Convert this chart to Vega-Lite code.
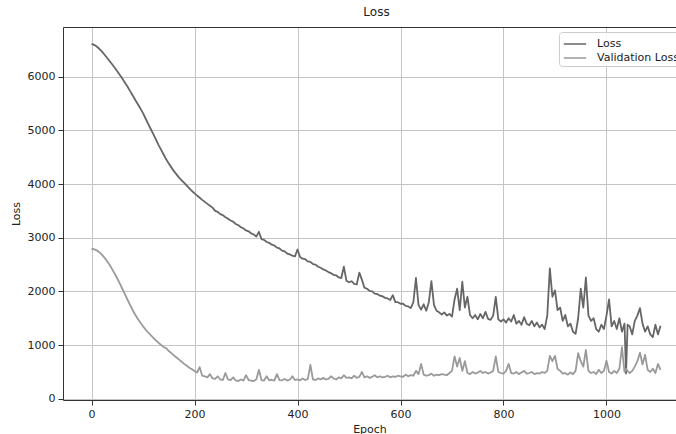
{
  "$schema": "https://vega.github.io/schema/vega-lite/v6.json",
  "width": 613,
  "height": 373,
  "autosize": {"type": "none"},
  "padding": {"left": 63, "top": 27, "right": 0, "bottom": 34},
  "background": "white",
  "title": {"text": "Loss", "fontSize": 12, "fontWeight": "normal", "font": "DejaVu Sans", "color": "#222", "offset": 8, "dx": 7, "anchor": "middle"},
  "config": {
    "view": {"stroke": null},
    "font": "DejaVu Sans",
    "axis": {
      "labelFont": "DejaVu Sans", "labelFontSize": 11, "labelColor": "#222",
      "titleFont": "DejaVu Sans", "titleFontSize": 11, "titleFontWeight": "normal", "titleColor": "#222",
      "domainColor": "#333", "domainWidth": 1, "tickColor": "#333", "tickSize": 5, "tickWidth": 1,
      "gridColor": "#c4c4c4", "gridWidth": 1
    }
  },
  "data": {"values": [
{"epoch":0,"Loss":6610,"Validation Loss":2790},
{"epoch":5,"Loss":6592,"Validation Loss":2785},
{"epoch":10,"Loss":6560,"Validation Loss":2765},
{"epoch":15,"Loss":6518,"Validation Loss":2730},
{"epoch":20,"Loss":6470,"Validation Loss":2685},
{"epoch":25,"Loss":6412,"Validation Loss":2630},
{"epoch":30,"Loss":6350,"Validation Loss":2565},
{"epoch":35,"Loss":6290,"Validation Loss":2495},
{"epoch":40,"Loss":6230,"Validation Loss":2415},
{"epoch":45,"Loss":6165,"Validation Loss":2330},
{"epoch":50,"Loss":6100,"Validation Loss":2240},
{"epoch":55,"Loss":6030,"Validation Loss":2145},
{"epoch":60,"Loss":5960,"Validation Loss":2045},
{"epoch":65,"Loss":5885,"Validation Loss":1945},
{"epoch":70,"Loss":5810,"Validation Loss":1845},
{"epoch":75,"Loss":5730,"Validation Loss":1745},
{"epoch":80,"Loss":5650,"Validation Loss":1650},
{"epoch":85,"Loss":5565,"Validation Loss":1565},
{"epoch":90,"Loss":5485,"Validation Loss":1485},
{"epoch":95,"Loss":5405,"Validation Loss":1415},
{"epoch":100,"Loss":5320,"Validation Loss":1350},
{"epoch":105,"Loss":5220,"Validation Loss":1290},
{"epoch":110,"Loss":5120,"Validation Loss":1235},
{"epoch":115,"Loss":5025,"Validation Loss":1185},
{"epoch":120,"Loss":4930,"Validation Loss":1135},
{"epoch":125,"Loss":4830,"Validation Loss":1090},
{"epoch":130,"Loss":4730,"Validation Loss":1045},
{"epoch":135,"Loss":4640,"Validation Loss":1005},
{"epoch":140,"Loss":4550,"Validation Loss":965},
{"epoch":145,"Loss":4460,"Validation Loss":945},
{"epoch":150,"Loss":4380,"Validation Loss":890},
{"epoch":155,"Loss":4310,"Validation Loss":850},
{"epoch":160,"Loss":4240,"Validation Loss":810},
{"epoch":165,"Loss":4180,"Validation Loss":770},
{"epoch":170,"Loss":4120,"Validation Loss":730},
{"epoch":175,"Loss":4070,"Validation Loss":690},
{"epoch":180,"Loss":4020,"Validation Loss":650},
{"epoch":185,"Loss":3970,"Validation Loss":615},
{"epoch":190,"Loss":3920,"Validation Loss":580},
{"epoch":195,"Loss":3870,"Validation Loss":550},
{"epoch":200,"Loss":3827,"Validation Loss":520},
{"epoch":205,"Loss":3785,"Validation Loss":490},
{"epoch":210,"Loss":3745,"Validation Loss":590},
{"epoch":215,"Loss":3705,"Validation Loss":430},
{"epoch":220,"Loss":3668,"Validation Loss":420},
{"epoch":225,"Loss":3630,"Validation Loss":400},
{"epoch":230,"Loss":3595,"Validation Loss":460},
{"epoch":235,"Loss":3560,"Validation Loss":380},
{"epoch":240,"Loss":3500,"Validation Loss":370},
{"epoch":245,"Loss":3480,"Validation Loss":420},
{"epoch":250,"Loss":3440,"Validation Loss":360},
{"epoch":255,"Loss":3420,"Validation Loss":350},
{"epoch":260,"Loss":3380,"Validation Loss":480},
{"epoch":265,"Loss":3355,"Validation Loss":360},
{"epoch":270,"Loss":3320,"Validation Loss":350},
{"epoch":275,"Loss":3300,"Validation Loss":400},
{"epoch":280,"Loss":3255,"Validation Loss":345},
{"epoch":285,"Loss":3235,"Validation Loss":330},
{"epoch":290,"Loss":3195,"Validation Loss":360},
{"epoch":295,"Loss":3175,"Validation Loss":340},
{"epoch":300,"Loss":3135,"Validation Loss":440},
{"epoch":305,"Loss":3120,"Validation Loss":350},
{"epoch":310,"Loss":3080,"Validation Loss":340},
{"epoch":315,"Loss":3060,"Validation Loss":330},
{"epoch":320,"Loss":3020,"Validation Loss":360},
{"epoch":325,"Loss":3110,"Validation Loss":540},
{"epoch":330,"Loss":2975,"Validation Loss":350},
{"epoch":335,"Loss":2960,"Validation Loss":340},
{"epoch":340,"Loss":2920,"Validation Loss":420},
{"epoch":345,"Loss":2905,"Validation Loss":345},
{"epoch":350,"Loss":2870,"Validation Loss":355},
{"epoch":355,"Loss":2855,"Validation Loss":340},
{"epoch":360,"Loss":2815,"Validation Loss":460},
{"epoch":365,"Loss":2800,"Validation Loss":350},
{"epoch":370,"Loss":2760,"Validation Loss":345},
{"epoch":375,"Loss":2745,"Validation Loss":370},
{"epoch":380,"Loss":2705,"Validation Loss":340},
{"epoch":385,"Loss":2690,"Validation Loss":355},
{"epoch":390,"Loss":2665,"Validation Loss":420},
{"epoch":395,"Loss":2650,"Validation Loss":350},
{"epoch":400,"Loss":2780,"Validation Loss":360},
{"epoch":405,"Loss":2640,"Validation Loss":345},
{"epoch":410,"Loss":2610,"Validation Loss":380},
{"epoch":415,"Loss":2600,"Validation Loss":350},
{"epoch":420,"Loss":2560,"Validation Loss":370},
{"epoch":425,"Loss":2550,"Validation Loss":630},
{"epoch":430,"Loss":2510,"Validation Loss":360},
{"epoch":435,"Loss":2500,"Validation Loss":350},
{"epoch":440,"Loss":2460,"Validation Loss":380},
{"epoch":445,"Loss":2440,"Validation Loss":360},
{"epoch":450,"Loss":2410,"Validation Loss":390},
{"epoch":455,"Loss":2390,"Validation Loss":360},
{"epoch":460,"Loss":2360,"Validation Loss":370},
{"epoch":465,"Loss":2340,"Validation Loss":420},
{"epoch":470,"Loss":2310,"Validation Loss":380},
{"epoch":475,"Loss":2300,"Validation Loss":360},
{"epoch":480,"Loss":2260,"Validation Loss":400},
{"epoch":485,"Loss":2250,"Validation Loss":380},
{"epoch":490,"Loss":2460,"Validation Loss":440},
{"epoch":495,"Loss":2200,"Validation Loss":390},
{"epoch":500,"Loss":2170,"Validation Loss":400},
{"epoch":505,"Loss":2190,"Validation Loss":380},
{"epoch":510,"Loss":2140,"Validation Loss":430},
{"epoch":515,"Loss":2130,"Validation Loss":390},
{"epoch":520,"Loss":2350,"Validation Loss":410},
{"epoch":525,"Loss":2220,"Validation Loss":500},
{"epoch":530,"Loss":2070,"Validation Loss":400},
{"epoch":535,"Loss":2050,"Validation Loss":420},
{"epoch":540,"Loss":2010,"Validation Loss":390},
{"epoch":545,"Loss":2000,"Validation Loss":410},
{"epoch":550,"Loss":1960,"Validation Loss":440},
{"epoch":555,"Loss":1950,"Validation Loss":400},
{"epoch":560,"Loss":1920,"Validation Loss":420},
{"epoch":565,"Loss":1910,"Validation Loss":400},
{"epoch":570,"Loss":1880,"Validation Loss":410},
{"epoch":575,"Loss":1870,"Validation Loss":430},
{"epoch":580,"Loss":1840,"Validation Loss":400},
{"epoch":585,"Loss":1930,"Validation Loss":420},
{"epoch":590,"Loss":1800,"Validation Loss":410},
{"epoch":595,"Loss":1800,"Validation Loss":430},
{"epoch":600,"Loss":1770,"Validation Loss":420},
{"epoch":605,"Loss":1770,"Validation Loss":410},
{"epoch":610,"Loss":1730,"Validation Loss":450},
{"epoch":615,"Loss":1720,"Validation Loss":420},
{"epoch":620,"Loss":1690,"Validation Loss":440},
{"epoch":625,"Loss":1800,"Validation Loss":430},
{"epoch":630,"Loss":2250,"Validation Loss":520},
{"epoch":635,"Loss":1750,"Validation Loss":460},
{"epoch":640,"Loss":1660,"Validation Loss":650},
{"epoch":645,"Loss":1760,"Validation Loss":450},
{"epoch":650,"Loss":1640,"Validation Loss":430},
{"epoch":655,"Loss":1800,"Validation Loss":440},
{"epoch":660,"Loss":2190,"Validation Loss":470},
{"epoch":665,"Loss":1750,"Validation Loss":430},
{"epoch":670,"Loss":1640,"Validation Loss":450},
{"epoch":675,"Loss":1610,"Validation Loss":440},
{"epoch":680,"Loss":1570,"Validation Loss":460},
{"epoch":685,"Loss":1610,"Validation Loss":450},
{"epoch":690,"Loss":1550,"Validation Loss":440},
{"epoch":695,"Loss":1580,"Validation Loss":480},
{"epoch":700,"Loss":1530,"Validation Loss":520},
{"epoch":705,"Loss":1850,"Validation Loss":790},
{"epoch":710,"Loss":2050,"Validation Loss":600},
{"epoch":715,"Loss":1650,"Validation Loss":760},
{"epoch":720,"Loss":2180,"Validation Loss":520},
{"epoch":725,"Loss":1700,"Validation Loss":700},
{"epoch":730,"Loss":1900,"Validation Loss":480},
{"epoch":735,"Loss":1560,"Validation Loss":460},
{"epoch":740,"Loss":1500,"Validation Loss":500},
{"epoch":745,"Loss":1560,"Validation Loss":470},
{"epoch":750,"Loss":1480,"Validation Loss":490},
{"epoch":755,"Loss":1580,"Validation Loss":520},
{"epoch":760,"Loss":1500,"Validation Loss":480},
{"epoch":765,"Loss":1620,"Validation Loss":500},
{"epoch":770,"Loss":1490,"Validation Loss":470},
{"epoch":775,"Loss":1470,"Validation Loss":490},
{"epoch":780,"Loss":1550,"Validation Loss":520},
{"epoch":785,"Loss":1900,"Validation Loss":790},
{"epoch":790,"Loss":1480,"Validation Loss":500},
{"epoch":795,"Loss":1440,"Validation Loss":480},
{"epoch":800,"Loss":1480,"Validation Loss":470},
{"epoch":805,"Loss":1420,"Validation Loss":520},
{"epoch":810,"Loss":1500,"Validation Loss":650},
{"epoch":815,"Loss":1440,"Validation Loss":480},
{"epoch":820,"Loss":1560,"Validation Loss":470},
{"epoch":825,"Loss":1400,"Validation Loss":500},
{"epoch":830,"Loss":1450,"Validation Loss":460},
{"epoch":835,"Loss":1380,"Validation Loss":490},
{"epoch":840,"Loss":1520,"Validation Loss":520},
{"epoch":845,"Loss":1400,"Validation Loss":470},
{"epoch":850,"Loss":1370,"Validation Loss":480},
{"epoch":855,"Loss":1450,"Validation Loss":500},
{"epoch":860,"Loss":1350,"Validation Loss":460},
{"epoch":865,"Loss":1420,"Validation Loss":480},
{"epoch":870,"Loss":1330,"Validation Loss":470},
{"epoch":875,"Loss":1380,"Validation Loss":500},
{"epoch":880,"Loss":1300,"Validation Loss":480},
{"epoch":885,"Loss":1550,"Validation Loss":520},
{"epoch":890,"Loss":2430,"Validation Loss":800},
{"epoch":895,"Loss":1900,"Validation Loss":700},
{"epoch":900,"Loss":2020,"Validation Loss":800},
{"epoch":905,"Loss":1650,"Validation Loss":560},
{"epoch":910,"Loss":1700,"Validation Loss":520},
{"epoch":915,"Loss":1450,"Validation Loss":470},
{"epoch":920,"Loss":1560,"Validation Loss":480},
{"epoch":925,"Loss":1350,"Validation Loss":450},
{"epoch":930,"Loss":1400,"Validation Loss":490},
{"epoch":935,"Loss":1250,"Validation Loss":460},
{"epoch":940,"Loss":1210,"Validation Loss":520},
{"epoch":945,"Loss":1500,"Validation Loss":850},
{"epoch":950,"Loss":2050,"Validation Loss":700},
{"epoch":955,"Loss":1700,"Validation Loss":600},
{"epoch":960,"Loss":2260,"Validation Loss":910},
{"epoch":965,"Loss":1550,"Validation Loss":520},
{"epoch":970,"Loss":1450,"Validation Loss":480},
{"epoch":975,"Loss":1500,"Validation Loss":500},
{"epoch":980,"Loss":1300,"Validation Loss":460},
{"epoch":985,"Loss":1250,"Validation Loss":540},
{"epoch":990,"Loss":1380,"Validation Loss":480},
{"epoch":995,"Loss":1300,"Validation Loss":520},
{"epoch":1000,"Loss":1550,"Validation Loss":710},
{"epoch":1005,"Loss":1850,"Validation Loss":500},
{"epoch":1010,"Loss":1350,"Validation Loss":470},
{"epoch":1015,"Loss":1450,"Validation Loss":520},
{"epoch":1020,"Loss":1300,"Validation Loss":480},
{"epoch":1025,"Loss":1500,"Validation Loss":560},
{"epoch":1030,"Loss":1250,"Validation Loss":960},
{"epoch":1035,"Loss":1400,"Validation Loss":500},
{"epoch":1038,"Loss":470,"Validation Loss":560},
{"epoch":1041,"Loss":1380,"Validation Loss":520},
{"epoch":1045,"Loss":1350,"Validation Loss":480},
{"epoch":1050,"Loss":1200,"Validation Loss":520},
{"epoch":1055,"Loss":1450,"Validation Loss":600},
{"epoch":1060,"Loss":1550,"Validation Loss":700},
{"epoch":1065,"Loss":1690,"Validation Loss":860},
{"epoch":1070,"Loss":1400,"Validation Loss":640},
{"epoch":1075,"Loss":1250,"Validation Loss":820},
{"epoch":1080,"Loss":1350,"Validation Loss":540},
{"epoch":1085,"Loss":1200,"Validation Loss":500},
{"epoch":1090,"Loss":1150,"Validation Loss":560},
{"epoch":1095,"Loss":1380,"Validation Loss":480},
{"epoch":1100,"Loss":1200,"Validation Loss":650},
{"epoch":1105,"Loss":1360,"Validation Loss":540}
  ]},
  "layer": [
    {
      "transform": [{"fold": ["Loss", "Validation Loss"], "as": ["series", "value"]}],
      "mark": {"type": "line", "strokeWidth": 1.8, "strokeJoin": "round"},
      "encoding": {
        "x": {"field": "epoch", "type": "quantitative",
              "scale": {"domain": [-55.4, 1135], "nice": false, "zero": false},
              "axis": {"title": "Epoch", "values": [0, 200, 400, 600, 800, 1000], "format": "d", "labelPadding": 3, "titlePadding": 4, "grid": true}},
        "y": {"field": "value", "type": "quantitative",
              "scale": {"domain": [-22, 6924], "nice": false, "zero": false},
              "axis": {"title": "Loss", "values": [0, 1000, 2000, 3000, 4000, 5000, 6000], "format": "d", "labelPadding": 3, "titlePadding": 6, "grid": true}},
        "color": {"field": "series", "type": "nominal",
                  "scale": {"domain": ["Loss", "Validation Loss"], "range": ["#666666", "#9a9a9a"]},
                  "legend": {"title": null, "orient": "none", "legendX": 496, "legendY": 5,
                             "symbolType": "M-1.4,0H1.4", "symbolSize": 256, "symbolStrokeWidth": 1.5,
                             "symbolOffset": 4, "labelOffset": 13, "rowPadding": 0, "padding": 3,
                             "labelFont": "DejaVu Sans", "labelFontSize": 11, "labelColor": "#222",
                             "fillColor": "rgba(255,255,255,0.85)", "strokeColor": "#cccccc", "cornerRadius": 3}}
      }
    },
    {
      "mark": {"type": "rule", "opacity": 0},
      "encoding": {
        "x": {"field": "epoch", "type": "quantitative",
              "axis": {"orient": "top", "labels": false, "ticks": false, "grid": false, "title": null, "domain": true}}
      }
    }
  ],
  "resolve": {"axis": {"x": "independent"}}
}
